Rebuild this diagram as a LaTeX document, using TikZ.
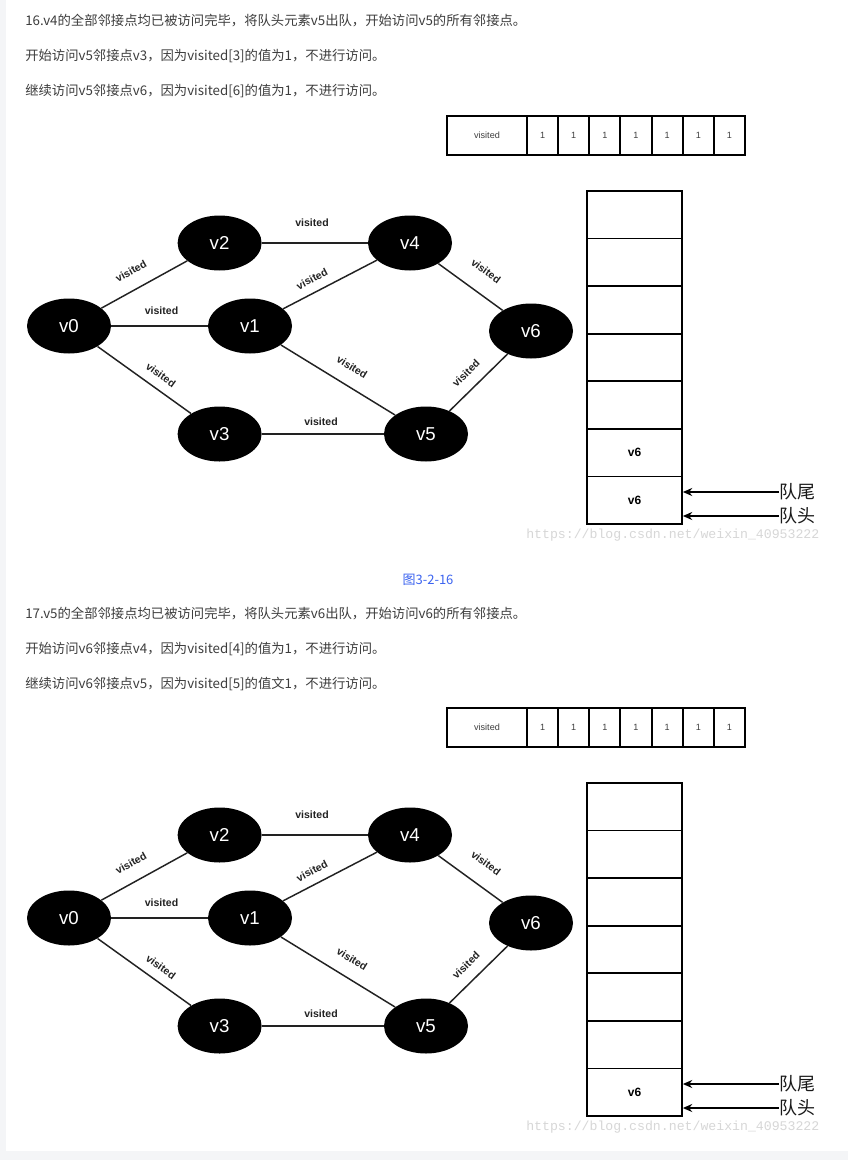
\documentclass[tikz,border=0pt]{standalone}
\usepackage{fontspec}
\setmainfont{Liberation Sans}
\newfontfamily\cjk{Noto Sans CJK SC}
\newfontfamily\monofnt{Liberation Mono}
\usetikzlibrary{shapes.geometric,arrows.meta}
\definecolor{txtgray}{RGB}{61,61,61}
\definecolor{capblue}{RGB}{60,100,240}
\definecolor{stripgray}{RGB}{244,245,247}
\definecolor{wmgray}{RGB}{215,215,215}
\definecolor{edgecol}{RGB}{34,34,34}
\tikzset{
  vert/.style={ellipse, fill=black, draw=none, minimum width=63pt, minimum height=41.25pt, inner sep=0pt,
    text=white, font=\fontsize{14}{16}\selectfont},
  gedge/.style={draw=edgecol, line width=1.1pt},
  elab/.style={font=\bfseries\fontsize{7.9}{9}\selectfont, text=edgecol, inner sep=0pt},
  para/.style={anchor=west, inner sep=0pt, text=txtgray, font=\cjk\fontsize{10}{12}\selectfont},
  vcell/.style={draw=black, line width=1.4pt, minimum height=29.25pt, inner sep=0pt,
    font=\fontsize{6.8}{8}\selectfont, text=txtgray},
  qcell/.style={draw=black, line width=1.3pt, minimum width=71.25pt, minimum height=35.68pt, inner sep=0pt,
    font=\bfseries\fontsize{9}{11}\selectfont},
  qlab/.style={anchor=west, inner sep=0pt, font=\cjk\fontsize{13.5}{15}\selectfont, text=black!90},
  qarr/.style={draw=black, line width=1.2pt, -{Stealth[length=7pt,width=6pt]}},
  wmark/.style={anchor=west, inner sep=0pt, text=wmgray, font=\monofnt\fontsize{9.9}{11}\selectfont}
}
\newcommand{\bfspanel}[4]{%
  \begin{scope}[shift={(0,#2)}]
    % visited array
    \node[vcell, minimum width=60pt] (#1va) at (487,135.5) {visited};
    \foreach \i in {1,...,7} {
      \node[vcell, minimum width=23.35pt] (#1vc\i) at ({527+31.14*(\i-0.5)},135.5) {1};
    }
    % graph
    \node[vert] (#1v0) at (69,326) {v0};
    \node[vert] (#1v2) at (219.6,243) {v2};
    \node[vert] (#1v4) at (410,243) {v4};
    \node[vert] (#1v1) at (250,326) {v1};
    \node[vert] (#1v6) at (531,331) {v6};
    \node[vert] (#1v3) at (219.6,434) {v3};
    \node[vert] (#1v5) at (426,434) {v5};
    \draw[gedge] (#1v0) -- (#1v2);
    \draw[gedge] (#1v2) -- (#1v4);
    \draw[gedge] (#1v0) -- (#1v1);
    \draw[gedge] (#1v1) -- (#1v4);
    \draw[gedge] (#1v4) -- (#1v6);
    \draw[gedge] (#1v0) -- (#1v3);
    \draw[gedge] (#1v1) -- (#1v5);
    \draw[gedge] (#1v5) -- (#1v6);
    \draw[gedge] (#1v3) -- (#1v5);
    \node[elab, rotate=28.9] (#1l02) at (131,271) {visited};
    \node[elab] (#1l24) at (312,223) {visited};
    \node[elab] (#1l01) at (161.5,311) {visited};
    \node[elab, rotate=27.4] (#1l14) at (312,279) {visited};
    \node[elab, rotate=-36] (#1l46) at (486,271) {visited};
    \node[elab, rotate=-35.6] (#1l03) at (161,375) {visited};
    \node[elab, rotate=-31.5] (#1l15) at (352,367) {visited};
    \node[elab, rotate=44.5] (#1l56) at (466,373) {visited};
    \node[elab] (#1l35) at (321,422) {visited};
    % queue
    \foreach \i in {1,...,5} {
      \node[qcell] (#1q\i) at (634.5,{191+47.57*(\i-0.5)}) {};
    }
    \node[qcell] (#1q6) at (634.5,{191+47.57*5.5}) {#3};
    \node[qcell] (#1q7) at (634.5,{191+47.57*6.5}) {#4};
    \node[qlab] (#1tail) at (779,492) {队尾};
    \node[qlab] (#1head) at (779,516) {队头};
    \draw[qarr] (#1tail.west) -- (#1q7.east |- #1tail.west);
    \draw[qarr] (#1head.west) -- (#1q7.east |- #1head.west);
    \node[wmark] (#1wm) at (526,535) {https://blog.csdn.net/weixin\_40953222};
  \end{scope}%
}
\begin{document}
\begin{tikzpicture}[x=0.75pt,y=-0.75pt]
\fill[stripgray] (0,0) rectangle (848,1160);
\fill[white] (6,0) rectangle (848,1151);
\useasboundingbox (0,0) rectangle (848,1160);

\node[para] (t1) at (25,21) {16.v4的全部邻接点均已被访问完毕，将队头元素v5出队，开始访问v5的所有邻接点。};
\node[para] (t2) at (25,56) {开始访问v5邻接点v3，因为visited[3]的值为1，不进行访问。};
\node[para] (t3) at (25,91) {继续访问v5邻接点v6，因为visited[6]的值为1，不进行访问。};

\bfspanel{a}{0}{v6}{v6}

\node[inner sep=0pt, text=capblue, font=\cjk\fontsize{9.75}{12}\selectfont] (cap) at (428,580) {图3-2-16};

\node[para] (t4) at (25,614) {17.v5的全部邻接点均已被访问完毕，将队头元素v6出队，开始访问v6的所有邻接点。};
\node[para] (t5) at (25,649) {开始访问v6邻接点v4，因为visited[4]的值为1，不进行访问。};
\node[para] (t6) at (25,684) {继续访问v6邻接点v5，因为visited[5]的值文1，不进行访问。};

\bfspanel{b}{592}{}{v6}
\end{tikzpicture}
\end{document}
